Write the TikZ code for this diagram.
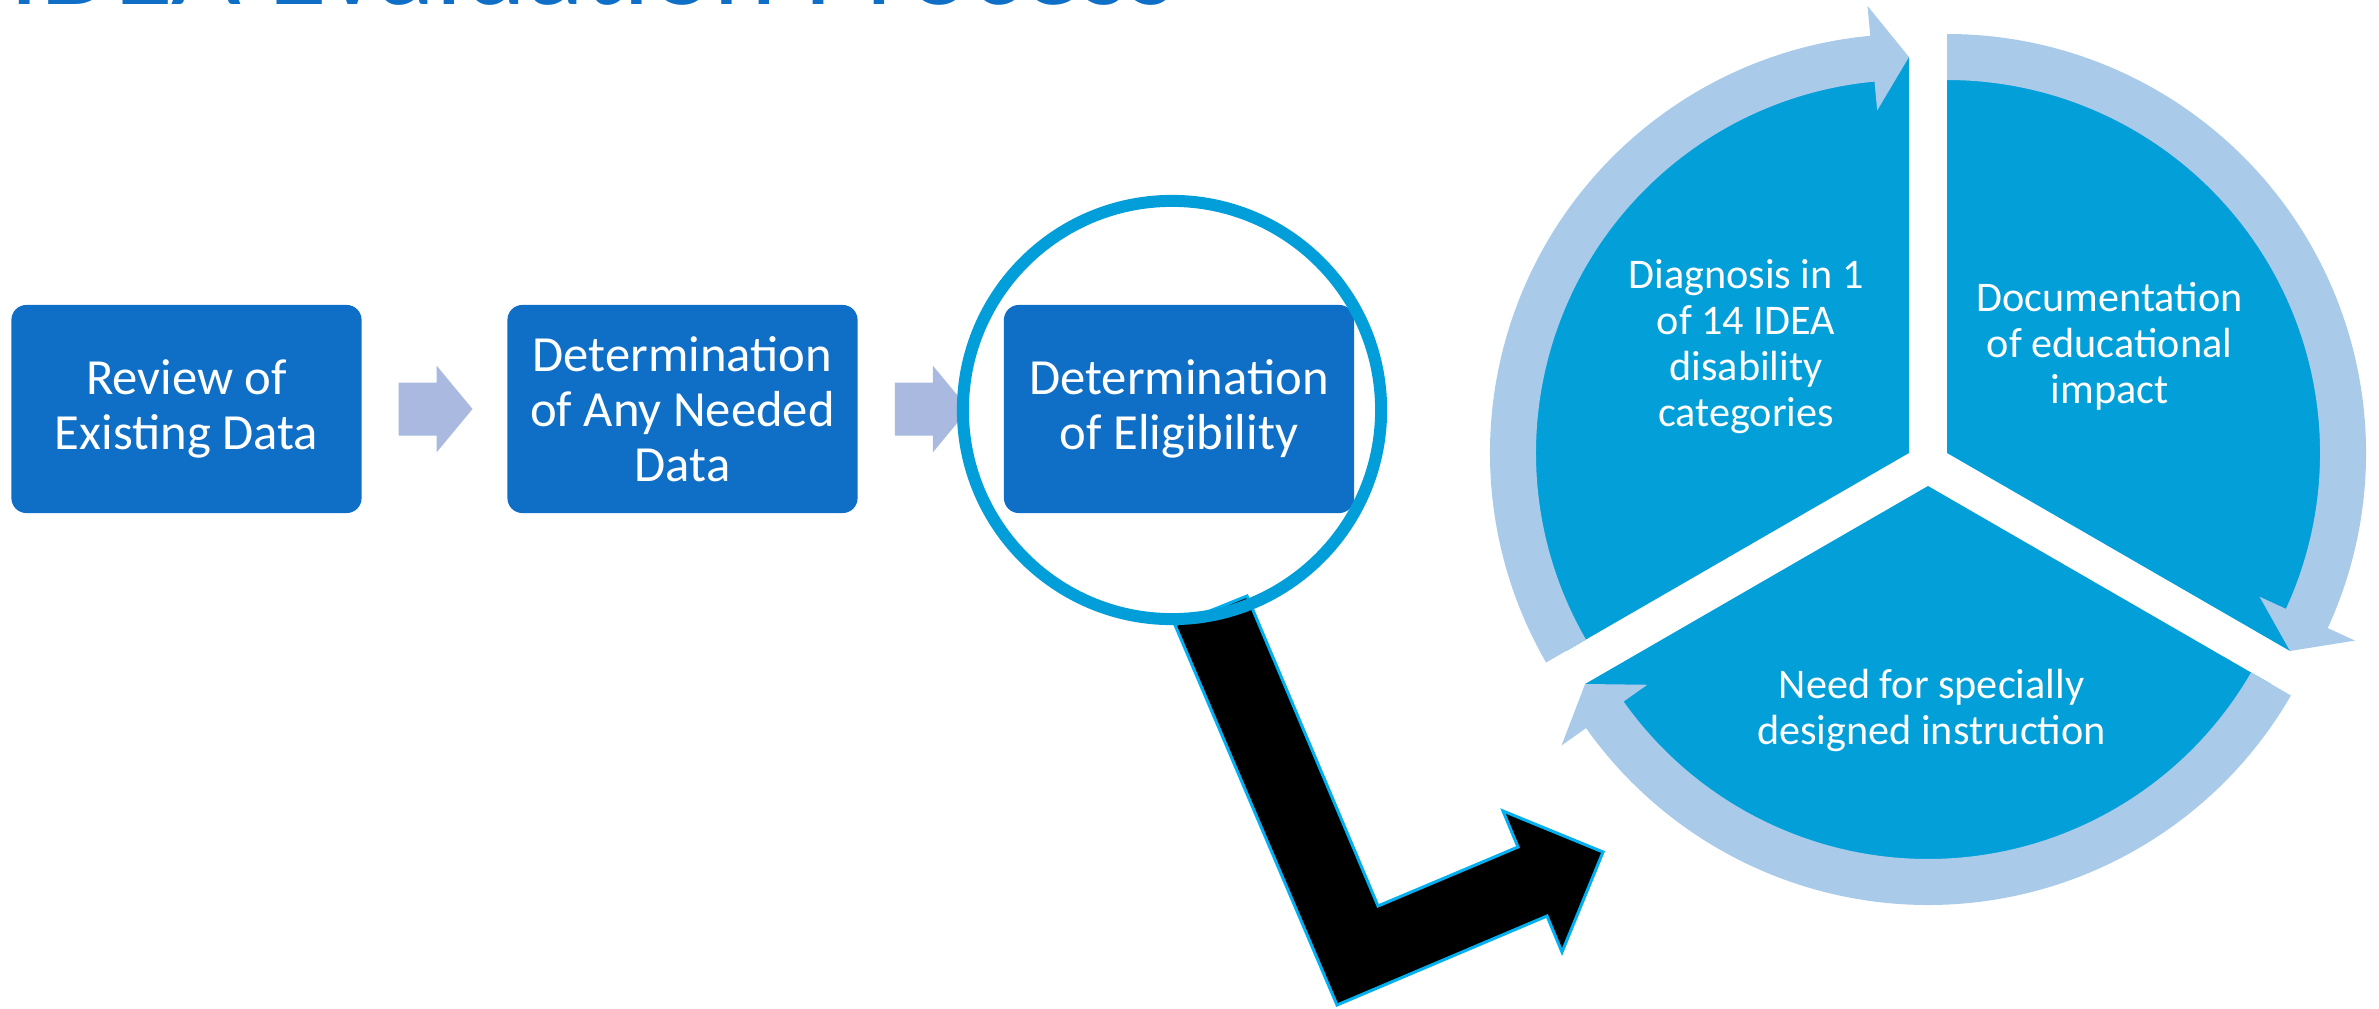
\documentclass[tikz,border=0pt]{standalone}
\usepackage{fontspec}
\setmainfont{Carlito}
\usetikzlibrary{calc}
\definecolor{boxblue}{RGB}{15,111,198}
\definecolor{flowlav}{RGB}{169,185,224}
\definecolor{lensblue}{RGB}{2,158,217}
\definecolor{handlecyan}{RGB}{0,176,240}
\definecolor{sectblue}{RGB}{3,159,217}
\definecolor{ringlight}{RGB}{169,203,233}
\begin{document}
\begin{tikzpicture}[x=0.01cm,y=0.01cm,
  stepbox/.style={fill=boxblue, rounded corners=0.15cm, minimum width=3.5cm,
    minimum height=2.08cm, inner sep=0pt, text=white, align=center,
    font=\fontsize{14.4}{15.65}\selectfont},
  flowarrow/.style={fill=flowlav},
  lens/.style={circle, draw=lensblue, line width=0.12cm, minimum size=4.18cm, inner sep=0pt},
  handle/.style={fill=black, draw=handlecyan, line width=0.03cm, line join=miter},
  sector/.style={fill=sectblue},
  ringarrow/.style={fill=ringlight},
  sectortext/.style={text=white, align=center, inner sep=0pt,
    font=\fontsize{12}{13.1}\selectfont}]
\useasboundingbox (0,0) rectangle (2379,1008);

% heading, mostly above the top edge
\node[anchor=base west, inner sep=0pt, text=boxblue, font=\fontsize{34.3}{40}\selectfont]
  (title) at (9,1003) {IDEA Evaluation Process};

% process steps
\node[stepbox] (b1) at (186.5,599) {Review of\\Existing Data};
\node[stepbox] (b2) at (682.5,599) {Determination\\of Any Needed\\Data};
\node[stepbox] (b3) at (1179,599) {Determination\\of Eligibility};

% block arrows between the steps
\foreach \a/\b in {b1/b2, b2/b3}
  \fill[flowarrow] ($(\a.east)!0.5!(\b.west)$) ++(-36,-26.5) -- ++(38,0) -- ++(0,-17)
    -- ++(36,43.5) -- ++(-36,43.5) -- ++(0,-17) -- ++(-38,0) -- cycle;

% magnifier handle, bent into an arrow
\filldraw[handle] (1175,383) -- (1247,412) -- (1378,102) -- (1518,161) -- (1503,197)
  -- (1603,156) -- (1562,56) -- (1547,92) -- (1337,3) -- cycle;

% magnifier lens around the last step
\node[lens] (lensring) at (1172,598) {};

% exploded three-part cycle
\coordinate (o1) at (1908.95,555);
\coordinate (o2) at (1947.05,555);
\coordinate (o3) at (1928,522);

\fill[sector] (o1) -- ($(o1)+(90:396)$) arc[start angle=90, end angle=210, radius=396] -- cycle;
\fill[sector] (o2) -- ($(o2)+(-30:396)$) arc[start angle=-30, end angle=90, radius=396] -- cycle;
\fill[sector] (o3) -- ($(o3)+(210:396)$) arc[start angle=210, end angle=330, radius=396] -- cycle;

% curved arrows running clockwise round each part
\fill[ringarrow] ($(o1)+(210:419)$) arc[start angle=210, end angle=95.3, radius=419]
  -- ($(o1)+(95.3:449)$) -- ($(o1)+(90:396)$) -- ($(o1)+(95.3:344)$)
  -- ($(o1)+(95.3:373)$) arc[start angle=95.3, end angle=210, radius=373] -- cycle;
\fill[ringarrow] ($(o2)+(90:419)$) arc[start angle=90, end angle=-24.7, radius=419]
  -- ($(o2)+(-24.7:449)$) -- ($(o2)+(-30:396)$) -- ($(o2)+(-24.7:344)$)
  -- ($(o2)+(-24.7:373)$) arc[start angle=-24.7, end angle=90, radius=373] -- cycle;
\fill[ringarrow] ($(o3)+(-30:419)$) arc[start angle=-30, end angle=-144.7, radius=419]
  -- ($(o3)+(-144.7:449)$) -- ($(o3)+(-150:396)$) -- ($(o3)+(-144.7:344)$)
  -- ($(o3)+(-144.7:373)$) arc[start angle=-144.7, end angle=-30, radius=373] -- cycle;

\node[sectortext] (s1) at (1746,661.3)
  {Diagnosis in 1\\of 14 IDEA\\disability\\categories};
\node[sectortext] (s2) at (2109.5,661.3) {Documentation\\of educational\\impact};
\node[sectortext] (s3) at (1931.5,297.5) {Need for specially\\designed instruction};
\end{tikzpicture}
\end{document}
